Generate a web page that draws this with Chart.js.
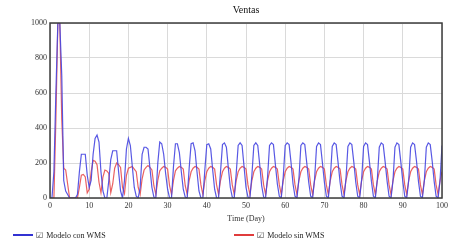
<!DOCTYPE html>
<html>
<head>
<meta charset="utf-8">
<script src="https://cdn.jsdelivr.net/npm/chart.js@4.4.0/dist/chart.umd.min.js"></script>
<style>
    html, body { margin: 0; padding: 0; background: #fff; }
    #wrap { position: relative; width: 465px; height: 244px; }
    .legend-item {
        position: absolute; top: 229px; height: 12px;
        display: flex; align-items: center;
        font: 8px "Liberation Serif", serif; color: #222; white-space: nowrap;
    }
    .legend-line { display: inline-block; width: 20px; height: 2px; margin-right: 3px; }
    .legend-box { font: 8px "DejaVu Sans", sans-serif; margin-right: 3px; color: #333; }
</style>
</head>
<body>
<div id="wrap">
    <canvas id="ventasChart" width="465" height="244"></canvas>
    <div class="legend-item" style="left:13px"><span class="legend-line" style="background:#3232d2"></span><span class="legend-box">☑</span>Modelo con WMS</div>
    <div class="legend-item" style="left:234px"><span class="legend-line" style="background:#e03c3c"></span><span class="legend-box">☑</span>Modelo sin WMS</div>
</div>
<script>
// --- Data (one value every half day, day 0 to 100) ---
const TIME_STEP = 0.5;
const xTicks = [0, 10, 20, 30, 40, 50, 60, 70, 80, 90, 100];
const yTicks = [0, 200, 400, 600, 800, 1000];

const ventasConWMS = [
    0, 0, 150, 600, 1000, 1000, 700, 100,
    40, 20, 0, 0, 0, 0, 20, 150,
    250, 250, 250, 130, 60, 100, 250, 340,
    360, 320, 150, 40, 0, 0, 100, 220,
    270, 270, 270, 150, 40, 0, 100, 280,
    340, 300, 180, 60, 10, 0, 60, 250,
    290, 290, 280, 170, 60, 5, 0, 200,
    320, 310, 250, 140, 50, 0, 0, 180,
    310, 310, 260, 150, 50, 5, 0, 170,
    310, 315, 270, 150, 40, 0, 0, 160,
    305, 310, 280, 160, 50, 0, 0, 150,
    305, 315, 290, 170, 60, 5, 0, 140,
    300, 315, 300, 180, 60, 5, 0, 130,
    300, 315, 300, 190, 70, 5, 0, 120,
    300, 315, 305, 190, 80, 10, 0, 120,
    300, 315, 305, 200, 80, 10, 0, 110,
    300, 315, 305, 200, 90, 10, 0, 110,
    295, 315, 305, 200, 90, 10, 0, 110,
    295, 315, 305, 200, 90, 10, 0, 110,
    295, 315, 305, 205, 90, 10, 0, 105,
    295, 315, 305, 205, 95, 10, 0, 105,
    290, 315, 305, 205, 95, 10, 0, 100,
    290, 315, 305, 205, 95, 10, 0, 100,
    290, 315, 305, 210, 95, 10, 0, 100,
    290, 315, 305, 210, 95, 10, 0, 100,
    300
];

const ventasSinWMS = [
    0, 0, 0, 450, 1000, 1000, 450, 170,
    160, 80, 0, 0, 0, 0, 0, 60,
    130, 135, 120, 30, 50, 150, 215, 210,
    190, 90, 30, 120, 160, 155, 140, 30,
    80, 170, 200, 190, 175, 60, 25, 130,
    170, 175, 180, 165, 150, 60, 20, 110,
    160, 175, 185, 175, 160, 70, 20, 100,
    155, 170, 180, 175, 165, 70, 20, 100,
    155, 170, 180, 175, 165, 70, 20, 100,
    150, 170, 180, 175, 165, 75, 20, 100,
    150, 170, 180, 175, 165, 75, 20, 100,
    150, 170, 180, 175, 165, 75, 20, 100,
    150, 170, 180, 175, 165, 75, 20, 100,
    150, 170, 180, 175, 165, 75, 20, 100,
    150, 170, 180, 175, 165, 75, 20, 100,
    150, 170, 180, 175, 165, 75, 20, 100,
    150, 170, 180, 175, 165, 75, 20, 100,
    150, 170, 180, 175, 165, 75, 20, 100,
    150, 170, 180, 175, 165, 75, 20, 100,
    150, 170, 180, 175, 165, 75, 20, 100,
    150, 170, 180, 175, 165, 75, 20, 100,
    150, 170, 180, 175, 165, 75, 20, 100,
    150, 170, 180, 175, 165, 75, 20, 100,
    150, 170, 180, 175, 165, 75, 20, 100,
    150, 170, 180, 175, 165, 75, 20, 100,
    150
];

// --- Helpers ---
function toPoints(values) {
    return values.map((v, i) => ({ x: i * TIME_STEP, y: v }));
}

// dark frame round the plot, like the original
const framePlugin = {
    id: 'frame',
    afterDatasetsDraw(chart) {
        const { ctx, chartArea } = chart;
        ctx.save();
        ctx.strokeStyle = '#3c3c3c';
        ctx.lineWidth = 1.5;
        ctx.strokeRect(chartArea.left, chartArea.top, chartArea.right - chartArea.left, chartArea.bottom - chartArea.top);
        ctx.restore();
    }
};

const serif = '"Liberation Serif", "Times New Roman", serif';

new Chart(document.getElementById('ventasChart'), {
    type: 'line',
    data: {
        datasets: [{
            label: 'Modelo con WMS',
            data: toPoints(ventasConWMS),
            borderColor: 'rgba(70, 70, 225, 0.9)',
            borderWidth: 1.2,
            pointRadius: 0,
            tension: 0
        }, {
            label: 'Modelo sin WMS',
            data: toPoints(ventasSinWMS),
            borderColor: 'rgba(232, 80, 80, 0.9)',
            borderWidth: 1.2,
            pointRadius: 0,
            tension: 0
        }]
    },
    options: {
        responsive: false,
        animation: false,
        layout: { padding: { top: 0, right: 23, bottom: 20, left: 0 } },
        plugins: {
            legend: { display: false },
            tooltip: { enabled: false },
            title: {
                display: true,
                text: 'Ventas',
                fullSize: false,
                color: '#111',
                font: { family: serif, size: 10, weight: 'normal' },
                padding: { top: 4, bottom: 7 }
            }
        },
        scales: {
            x: {
                type: 'linear',
                min: 0,
                max: 100,
                afterBuildTicks: (scale) => { scale.ticks = xTicks.map(v => ({ value: v })); },
                afterFit: (scale) => { scale.height = 26; },
                grid: { color: '#dadada', lineWidth: 1, drawTicks: false },
                border: { display: false },
                ticks: {
                    color: '#333', padding: 3, maxRotation: 0,
                    font: { family: serif, size: 8 },
                    callback: (value) => String(value)
                },
                title: {
                    display: true,
                    text: 'Time (Day)',
                    color: '#333',
                    font: { family: serif, size: 8 },
                    padding: { top: 2, bottom: 0 }
                }
            },
            y: {
                min: 0,
                max: 1000,
                afterBuildTicks: (scale) => { scale.ticks = yTicks.map(v => ({ value: v })); },
                afterFit: (scale) => { scale.width = 50; },
                grid: { color: '#dadada', lineWidth: 1, drawTicks: false },
                border: { display: false },
                ticks: {
                    color: '#333', padding: 3,
                    font: { family: serif, size: 8 },
                    callback: (value) => String(value)
                }
            }
        }
    },
    plugins: [framePlugin]
});
</script>
</body>
</html>
